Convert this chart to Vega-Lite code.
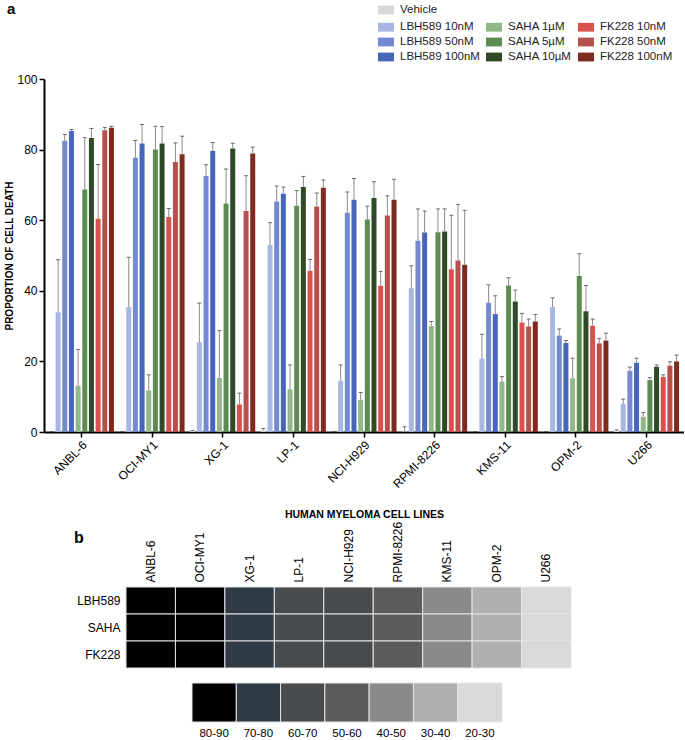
{
  "$schema": "https://vega.github.io/schema/vega-lite/v6.json",
  "padding": {"left": 4, "top": 2, "right": 0, "bottom": 0},
  "bounds": "flush",
  "spacing": 155,
  "config": {
    "view": {"stroke": null},
    "font": "Liberation Sans",
    "axis": {"labelFont": "Liberation Sans", "titleFont": "Liberation Sans", "labelColor": "#000", "titleColor": "#000", "grid": false},
    "legend": {"labelFont": "Liberation Sans", "labelFontSize": 11.5, "labelColor": "#222", "symbolType": "M-1,-0.55H1V0.55H-1Z", "symbolSize": 256, "symbolStrokeWidth": 0, "symbolOpacity": 1, "rowPadding": 1, "columnPadding": 6, "labelOffset": 6, "padding": 0}
  },
  "datasets": {
    "bars": [
      {"line": "ANBL-6", "treatment": "Vehicle", "value": 0.1, "err": 0.1},
      {"line": "ANBL-6", "treatment": "LBH589 10nM", "value": 33.9, "err": 48.8},
      {"line": "ANBL-6", "treatment": "LBH589 50nM", "value": 82.5, "err": 84.3},
      {"line": "ANBL-6", "treatment": "LBH589 100nM", "value": 85.3, "err": 85.7},
      {"line": "ANBL-6", "treatment": "SAHA 1µM", "value": 13.1, "err": 23.4},
      {"line": "ANBL-6", "treatment": "SAHA 5µM", "value": 68.7, "err": 83.4},
      {"line": "ANBL-6", "treatment": "SAHA 10µM", "value": 83.3, "err": 86.0},
      {"line": "ANBL-6", "treatment": "FK228 10nM", "value": 60.4, "err": 75.8},
      {"line": "ANBL-6", "treatment": "FK228 50nM", "value": 85.5, "err": 86.3},
      {"line": "ANBL-6", "treatment": "FK228 100nM", "value": 86.2, "err": 86.6},
      {"line": "OCI-MY1", "treatment": "Vehicle", "value": 0.1, "err": 0.1},
      {"line": "OCI-MY1", "treatment": "LBH589 10nM", "value": 35.4, "err": 49.5},
      {"line": "OCI-MY1", "treatment": "LBH589 50nM", "value": 77.7, "err": 82.6},
      {"line": "OCI-MY1", "treatment": "LBH589 100nM", "value": 81.7, "err": 87.1},
      {"line": "OCI-MY1", "treatment": "SAHA 1µM", "value": 11.8, "err": 16.2},
      {"line": "OCI-MY1", "treatment": "SAHA 5µM", "value": 80.0, "err": 86.6},
      {"line": "OCI-MY1", "treatment": "SAHA 10µM", "value": 81.7, "err": 86.5},
      {"line": "OCI-MY1", "treatment": "FK228 10nM", "value": 60.9, "err": 63.3},
      {"line": "OCI-MY1", "treatment": "FK228 50nM", "value": 76.5, "err": 81.9},
      {"line": "OCI-MY1", "treatment": "FK228 100nM", "value": 78.7, "err": 83.8},
      {"line": "XG-1", "treatment": "Vehicle", "value": 0.3, "err": 0.4},
      {"line": "XG-1", "treatment": "LBH589 10nM", "value": 25.4, "err": 36.5},
      {"line": "XG-1", "treatment": "LBH589 50nM", "value": 72.5, "err": 75.7},
      {"line": "XG-1", "treatment": "LBH589 100nM", "value": 79.6, "err": 82.0},
      {"line": "XG-1", "treatment": "SAHA 1µM", "value": 15.3, "err": 28.7},
      {"line": "XG-1", "treatment": "SAHA 5µM", "value": 64.7, "err": 74.5},
      {"line": "XG-1", "treatment": "SAHA 10µM", "value": 80.3, "err": 81.8},
      {"line": "XG-1", "treatment": "FK228 10nM", "value": 7.8, "err": 11.0},
      {"line": "XG-1", "treatment": "FK228 50nM", "value": 62.6, "err": 72.6},
      {"line": "XG-1", "treatment": "FK228 100nM", "value": 78.9, "err": 80.7},
      {"line": "LP-1", "treatment": "Vehicle", "value": 0.5, "err": 1.0},
      {"line": "LP-1", "treatment": "LBH589 10nM", "value": 53.0, "err": 59.3},
      {"line": "LP-1", "treatment": "LBH589 50nM", "value": 65.3, "err": 69.7},
      {"line": "LP-1", "treatment": "LBH589 100nM", "value": 67.5, "err": 69.4},
      {"line": "LP-1", "treatment": "SAHA 1µM", "value": 12.1, "err": 19.0},
      {"line": "LP-1", "treatment": "SAHA 5µM", "value": 64.1, "err": 68.4},
      {"line": "LP-1", "treatment": "SAHA 10µM", "value": 69.4, "err": 72.4},
      {"line": "LP-1", "treatment": "FK228 10nM", "value": 45.7, "err": 48.9},
      {"line": "LP-1", "treatment": "FK228 50nM", "value": 63.9, "err": 67.7},
      {"line": "LP-1", "treatment": "FK228 100nM", "value": 69.2, "err": 71.4},
      {"line": "NCI-H929", "treatment": "Vehicle", "value": 0.1, "err": 0.1},
      {"line": "NCI-H929", "treatment": "LBH589 10nM", "value": 14.5, "err": 19.0},
      {"line": "NCI-H929", "treatment": "LBH589 50nM", "value": 62.1, "err": 68.0},
      {"line": "NCI-H929", "treatment": "LBH589 100nM", "value": 65.8, "err": 71.8},
      {"line": "NCI-H929", "treatment": "SAHA 1µM", "value": 9.1, "err": 11.2},
      {"line": "NCI-H929", "treatment": "SAHA 5µM", "value": 60.2, "err": 64.0},
      {"line": "NCI-H929", "treatment": "SAHA 10µM", "value": 66.3, "err": 70.9},
      {"line": "NCI-H929", "treatment": "FK228 10nM", "value": 41.4, "err": 45.5},
      {"line": "NCI-H929", "treatment": "FK228 50nM", "value": 61.3, "err": 66.9},
      {"line": "NCI-H929", "treatment": "FK228 100nM", "value": 65.8, "err": 71.6},
      {"line": "RPMI-8226", "treatment": "Vehicle", "value": 0.1, "err": 1.5},
      {"line": "RPMI-8226", "treatment": "LBH589 10nM", "value": 40.7, "err": 47.1},
      {"line": "RPMI-8226", "treatment": "LBH589 50nM", "value": 54.2, "err": 63.2},
      {"line": "RPMI-8226", "treatment": "LBH589 100nM", "value": 56.5, "err": 62.6},
      {"line": "RPMI-8226", "treatment": "SAHA 1µM", "value": 30.0, "err": 31.3},
      {"line": "RPMI-8226", "treatment": "SAHA 5µM", "value": 56.6, "err": 63.2},
      {"line": "RPMI-8226", "treatment": "SAHA 10µM", "value": 56.8, "err": 63.2},
      {"line": "RPMI-8226", "treatment": "FK228 10nM", "value": 46.1, "err": 61.4},
      {"line": "RPMI-8226", "treatment": "FK228 50nM", "value": 48.6, "err": 64.5},
      {"line": "RPMI-8226", "treatment": "FK228 100nM", "value": 47.4, "err": 62.8},
      {"line": "KMS-11", "treatment": "Vehicle", "value": 0.1, "err": 0.1},
      {"line": "KMS-11", "treatment": "LBH589 10nM", "value": 20.8, "err": 27.7},
      {"line": "KMS-11", "treatment": "LBH589 50nM", "value": 36.6, "err": 41.7},
      {"line": "KMS-11", "treatment": "LBH589 100nM", "value": 33.4, "err": 38.6},
      {"line": "KMS-11", "treatment": "SAHA 1µM", "value": 14.3, "err": 15.7},
      {"line": "KMS-11", "treatment": "SAHA 5µM", "value": 41.5, "err": 43.7},
      {"line": "KMS-11", "treatment": "SAHA 10µM", "value": 37.0, "err": 40.2},
      {"line": "KMS-11", "treatment": "FK228 10nM", "value": 31.0, "err": 33.6},
      {"line": "KMS-11", "treatment": "FK228 50nM", "value": 29.9, "err": 32.0},
      {"line": "KMS-11", "treatment": "FK228 100nM", "value": 31.3, "err": 33.3},
      {"line": "OPM-2", "treatment": "Vehicle", "value": 0.1, "err": 0.1},
      {"line": "OPM-2", "treatment": "LBH589 10nM", "value": 35.4, "err": 38.0},
      {"line": "OPM-2", "treatment": "LBH589 50nM", "value": 27.3, "err": 29.2},
      {"line": "OPM-2", "treatment": "LBH589 100nM", "value": 25.2, "err": 25.9},
      {"line": "OPM-2", "treatment": "SAHA 1µM", "value": 15.2, "err": 20.9},
      {"line": "OPM-2", "treatment": "SAHA 5µM", "value": 44.2, "err": 50.5},
      {"line": "OPM-2", "treatment": "SAHA 10µM", "value": 34.2, "err": 41.5},
      {"line": "OPM-2", "treatment": "FK228 10nM", "value": 30.1, "err": 32.0},
      {"line": "OPM-2", "treatment": "FK228 50nM", "value": 25.1, "err": 26.5},
      {"line": "OPM-2", "treatment": "FK228 100nM", "value": 25.9, "err": 28.0},
      {"line": "U266", "treatment": "Vehicle", "value": 0.4, "err": 0.6},
      {"line": "U266", "treatment": "LBH589 10nM", "value": 7.9, "err": 9.3},
      {"line": "U266", "treatment": "LBH589 50nM", "value": 17.3, "err": 18.4},
      {"line": "U266", "treatment": "LBH589 100nM", "value": 19.6, "err": 20.9},
      {"line": "U266", "treatment": "SAHA 1µM", "value": 4.3, "err": 5.5},
      {"line": "U266", "treatment": "SAHA 5µM", "value": 14.7, "err": 15.4},
      {"line": "U266", "treatment": "SAHA 10µM", "value": 18.5, "err": 19.0},
      {"line": "U266", "treatment": "FK228 10nM", "value": 15.6, "err": 16.2},
      {"line": "U266", "treatment": "FK228 50nM", "value": 18.8, "err": 19.9},
      {"line": "U266", "treatment": "FK228 100nM", "value": 20.0, "err": 21.8}
    ],
    "heat": [
      {"line": "ANBL-6", "drug": "LBH589", "range": "80-90"},
      {"line": "ANBL-6", "drug": "SAHA", "range": "80-90"},
      {"line": "ANBL-6", "drug": "FK228", "range": "80-90"},
      {"line": "OCI-MY1", "drug": "LBH589", "range": "80-90"},
      {"line": "OCI-MY1", "drug": "SAHA", "range": "80-90"},
      {"line": "OCI-MY1", "drug": "FK228", "range": "80-90"},
      {"line": "XG-1", "drug": "LBH589", "range": "70-80"},
      {"line": "XG-1", "drug": "SAHA", "range": "70-80"},
      {"line": "XG-1", "drug": "FK228", "range": "70-80"},
      {"line": "LP-1", "drug": "LBH589", "range": "60-70"},
      {"line": "LP-1", "drug": "SAHA", "range": "60-70"},
      {"line": "LP-1", "drug": "FK228", "range": "60-70"},
      {"line": "NCI-H929", "drug": "LBH589", "range": "60-70"},
      {"line": "NCI-H929", "drug": "SAHA", "range": "60-70"},
      {"line": "NCI-H929", "drug": "FK228", "range": "60-70"},
      {"line": "RPMI-8226", "drug": "LBH589", "range": "50-60"},
      {"line": "RPMI-8226", "drug": "SAHA", "range": "50-60"},
      {"line": "RPMI-8226", "drug": "FK228", "range": "50-60"},
      {"line": "KMS-11", "drug": "LBH589", "range": "40-50"},
      {"line": "KMS-11", "drug": "SAHA", "range": "40-50"},
      {"line": "KMS-11", "drug": "FK228", "range": "40-50"},
      {"line": "OPM-2", "drug": "LBH589", "range": "30-40"},
      {"line": "OPM-2", "drug": "SAHA", "range": "30-40"},
      {"line": "OPM-2", "drug": "FK228", "range": "30-40"},
      {"line": "U266", "drug": "LBH589", "range": "20-30"},
      {"line": "U266", "drug": "SAHA", "range": "20-30"},
      {"line": "U266", "drug": "FK228", "range": "20-30"}
    ],
    "key": [
      {"range": "80-90"}, {"range": "70-80"}, {"range": "60-70"}, {"range": "50-60"},
      {"range": "40-50"}, {"range": "30-40"}, {"range": "20-30"}
    ]
  },
  "vconcat": [
    {
      "width": 640,
      "height": 353,
      "title": {"text": "a", "anchor": "start", "frame": "group", "dx": -37, "dy": 19, "fontSize": 15, "fontWeight": "bold", "font": "Liberation Sans", "color": "#000"},
      "data": {"name": "bars"},
      "encoding": {
        "x": {
          "field": "line", "type": "nominal",
          "sort": ["ANBL-6", "OCI-MY1", "XG-1", "LP-1", "NCI-H929", "RPMI-8226", "KMS-11", "OPM-2", "U266"],
          "scale": {"paddingInner": 0, "paddingOuter": 0.03},
          "axis": {"title": "HUMAN MYELOMA CELL LINES", "labelAngle": -45, "labelFontSize": 12, "labelPadding": 2, "domainColor": "#000", "domainWidth": 2, "tickColor": "#000", "tickWidth": 1.5, "tickSize": 5, "titleFontSize": 10.5, "titleFontWeight": "bold", "titlePadding": 20}
        },
        "xOffset": {
          "field": "treatment", "type": "nominal",
          "scale": {"domain": ["Vehicle", "LBH589 10nM", "LBH589 50nM", "LBH589 100nM", "SAHA 1µM", "SAHA 5µM", "SAHA 10µM", "FK228 10nM", "FK228 50nM", "FK228 100nM"], "paddingInner": 0.25, "paddingOuter": 0.42}
        },
        "y": {
          "field": "value", "type": "quantitative",
          "scale": {"domain": [0, 100], "nice": false},
          "axis": {"title": "PROPORTION OF CELL DEATH", "values": [0, 20, 40, 60, 80, 100], "labelFontSize": 12, "labelPadding": 2, "domainColor": "#000", "domainWidth": 2, "tickColor": "#000", "tickWidth": 1.5, "tickSize": 5, "titleFontSize": 10, "titleFontWeight": "bold", "titlePadding": 2}
        }
      },
      "layer": [
        {
          "transform": [{"filter": "datum.treatment === 'Vehicle'"}],
          "mark": {"type": "bar"},
          "encoding": {
            "color": {"field": "treatment", "type": "nominal", "scale": {"domain": ["Vehicle"], "range": ["#d8d8d8"]}, "legend": {"orient": "none", "legendX": 334, "legendY": -77, "title": null}}
          }
        },
        {
          "transform": [{"filter": "datum.treatment !== 'Vehicle'"}],
          "mark": {"type": "bar"},
          "encoding": {
            "color": {
              "field": "treatment", "type": "nominal",
              "scale": {
                "domain": ["LBH589 10nM", "LBH589 50nM", "LBH589 100nM", "SAHA 1µM", "SAHA 5µM", "SAHA 10µM", "FK228 10nM", "FK228 50nM", "FK228 100nM"],
                "range": ["#a7b7e1", "#7489d0", "#4766b9", "#92b889", "#5c8c51", "#2f4a27", "#d9524e", "#b6504c", "#7d2b1f"]
              },
              "legend": {"orient": "none", "legendX": 334, "legendY": -60, "title": null, "columns": 3}
            }
          }
        },
        {
          "mark": {"type": "rule", "color": "#8a8a8a", "strokeWidth": 1},
          "encoding": {"y2": {"field": "err"}}
        },
        {
          "mark": {"type": "tick", "color": "#333", "thickness": 1, "size": 4},
          "encoding": {"y": {"field": "err", "type": "quantitative", "title": "PROPORTION OF CELL DEATH"}}
        }
      ],
      "resolve": {"scale": {"color": "independent"}}
    },
    {
      "width": 528,
      "height": 135,
      "title": {"text": "b", "anchor": "start", "frame": "group", "dx": 30, "dy": 29, "fontSize": 16, "fontWeight": "bold", "font": "Liberation Sans", "color": "#000"},
      "layer": [
        {
          "data": {"name": "heat"},
          "mark": {"type": "rect", "stroke": "#e4e4e4", "strokeWidth": 1},
          "encoding": {
            "x": {
              "field": "line", "type": "nominal",
              "sort": ["ANBL-6", "OCI-MY1", "XG-1", "LP-1", "NCI-H929", "RPMI-8226", "KMS-11", "OPM-2", "U266"],
              "scale": {"paddingInner": 0, "paddingOuter": 0, "range": [82, 527]},
              "axis": {"orient": "top", "labelAngle": -90, "domain": false, "ticks": false, "title": null, "labelFontSize": 12, "labelPadding": 5}
            },
            "y": {
              "field": "drug", "type": "nominal", "sort": ["LBH589", "SAHA", "FK228"],
              "scale": {"paddingInner": 0, "paddingOuter": 0, "range": [0, 81]},
              "axis": {"title": null, "domain": false, "ticks": false, "offset": -82, "labelFontSize": 12, "labelPadding": 6}
            },
            "color": {
              "field": "range", "type": "nominal",
              "scale": {"domain": ["80-90", "70-80", "60-70", "50-60", "40-50", "30-40", "20-30"], "range": ["#000000", "#2f3b47", "#484b4d", "#5c5c5c", "#8a8a8a", "#b0b0b0", "#d9d9d9"]},
              "legend": null
            }
          }
        },
        {
          "data": {"name": "key"},
          "mark": {"type": "rect", "stroke": "#e4e4e4", "strokeWidth": 1},
          "encoding": {
            "x": {
              "field": "range", "type": "nominal",
              "sort": ["80-90", "70-80", "60-70", "50-60", "40-50", "30-40", "20-30"],
              "scale": {"paddingInner": 0, "paddingOuter": 0, "range": [148, 458]},
              "axis": {"orient": "bottom", "labelAngle": 0, "domain": false, "ticks": false, "title": null, "labelFontSize": 11.5, "labelPadding": 5}
            },
            "y": {"datum": "key", "type": "nominal", "scale": {"domain": ["key"], "paddingInner": 0, "paddingOuter": 0, "range": [96, 135]}, "axis": null},
            "color": {"field": "range", "type": "nominal", "legend": null}
          }
        }
      ],
      "resolve": {"scale": {"x": "independent", "y": "independent"}, "axis": {"x": "independent", "y": "independent"}}
    }
  ]
}
